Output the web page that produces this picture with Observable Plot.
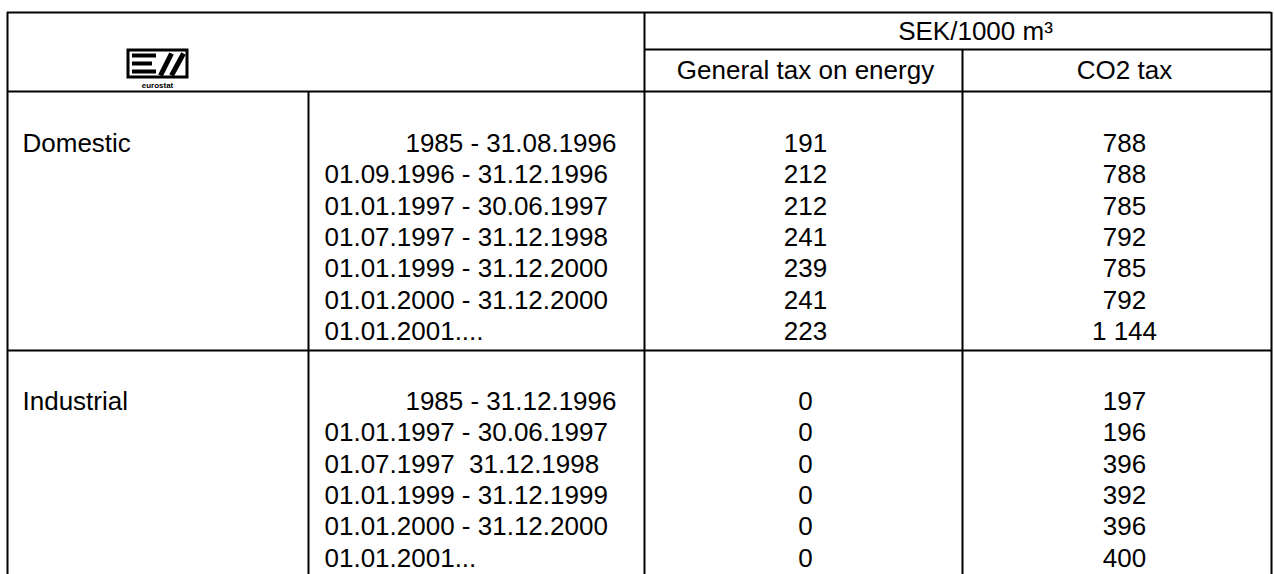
<!DOCTYPE html>
<html>
<head>
<meta charset="utf-8">
<script src="https://cdn.jsdelivr.net/npm/d3@7"></script>
<script src="https://cdn.jsdelivr.net/npm/@observablehq/plot@0.6"></script>
<style>
  html, body { margin: 0; padding: 0; background: #ffffff; }
  #chart svg text { white-space: pre; }
</style>
</head>
<body>
<div id="chart"></div>
<script>
const sections = ["Domestic", "Industrial"];
const unitLabel = "SEK/1000 m³";
const columnLabels = ["General tax on energy", "CO2 tax"];

const domesticPeriods = [
  "1985 - 31.08.1996",
  "01.09.1996 - 31.12.1996",
  "01.01.1997 - 30.06.1997",
  "01.07.1997 - 31.12.1998",
  "01.01.1999 - 31.12.2000",
  "01.01.2000 - 31.12.2000",
  "01.01.2001...."
];
const domesticEnergyTax = [191, 212, 212, 241, 239, 241, 223];
const domesticCO2Tax = [788, 788, 785, 792, 785, 792, 1144];

const industrialPeriods = [
  "1985 - 31.12.1996",
  "01.01.1997 - 30.06.1997",
  "01.07.1997  31.12.1998",
  "01.01.1999 - 31.12.1999",
  "01.01.2000 - 31.12.2000",
  "01.01.2001..."
];
const industrialEnergyTax = [0, 0, 0, 0, 0, 0];
const industrialCO2Tax = [197, 196, 396, 392, 396, 400];

// ---- layout (pixels) ----
const W = 1274, H = 574;
const L = {
  left: 7, right: 1271, top: 12, unitLine: 49, headerLine: 91, sectionLine: 350, bottom: 574,
  catDiv: 308, periodDiv: 644, taxDiv: 962,
  firstRow: [143, 401], rowStep: 31.4,
  labelX: 22, periodStart: 324, periodEnd: 616,
  energyX: 805, co2X: 1124, unitX: 975,
  unitY: 31, colHeadY: 70
};
const FS = 26;

const fmt = d3.formatLocale({decimal: ".", thousands: " ", grouping: [3], currency: ["", ""]}).format(",d");

// ---- build cells ----
const blocks = [
  {name: sections[0], periods: domesticPeriods, energy: domesticEnergyTax, co2: domesticCO2Tax},
  {name: sections[1], periods: industrialPeriods, energy: industrialEnergyTax, co2: industrialCO2Tax}
];
const startCells = [], middleCells = [], endCells = [];
blocks.forEach((b, bi) => {
  const y0 = L.firstRow[bi];
  startCells.push({x: L.labelX, y: y0, text: b.name});
  b.periods.forEach((p, i) => {
    const y = y0 + i * L.rowStep;
    if (p.startsWith("1985")) endCells.push({x: L.periodEnd, y, text: p});
    else startCells.push({x: L.periodStart, y, text: p});
    middleCells.push({x: L.energyX, y, text: fmt(b.energy[i])});
    middleCells.push({x: L.co2X, y, text: fmt(b.co2[i])});
  });
});
middleCells.push({x: L.unitX, y: L.unitY, text: unitLabel});
middleCells.push({x: L.energyX, y: L.colHeadY, text: columnLabels[0]});
middleCells.push({x: L.co2X, y: L.colHeadY, text: columnLabels[1]});

const hLines = [
  {y: L.top, x1: L.left, x2: L.right},
  {y: L.unitLine, x1: L.periodDiv, x2: L.right},
  {y: L.headerLine, x1: L.left, x2: L.right},
  {y: L.sectionLine, x1: L.left, x2: L.right}
];
const vLines = [
  {x: L.left, y1: L.top, y2: L.bottom},
  {x: L.catDiv, y1: L.headerLine, y2: L.bottom},
  {x: L.periodDiv, y1: L.top, y2: L.bottom},
  {x: L.taxDiv, y1: L.unitLine, y2: L.bottom},
  {x: L.right, y1: L.top, y2: L.bottom}
];

// eurostat logo (small emblem)
const logo = {x1: 128, x2: 187, y1: 50, y2: 77};
const logoBars = [
  {y: 55, x1: 132, x2: 156}, {y: 63, x1: 132, x2: 152}, {y: 71, x1: 132, x2: 156}
];
const logoSlashes = [
  {x1: 160, y1: 75, x2: 171, y2: 53}, {x1: 171, y1: 75, x2: 183, y2: 53}
];

const chart = Plot.plot({
  width: W, height: H,
  margin: 0,
  x: {type: "identity", axis: null},
  y: {type: "identity", axis: null},
  style: {fontFamily: "'Liberation Sans', Arial, sans-serif", fontSize: FS + "px", background: "#ffffff", color: "#000"},
  marks: [
    Plot.ruleY(hLines, {y: "y", x1: "x1", x2: "x2", stroke: "#000", strokeWidth: 2.2}),
    Plot.ruleX(vLines, {x: "x", y1: "y1", y2: "y2", stroke: "#000", strokeWidth: 2}),
    Plot.rect([logo], {x1: "x1", x2: "x2", y1: "y1", y2: "y2", fill: "#fff", stroke: "#000", strokeWidth: 3}),
    Plot.ruleY(logoBars, {y: "y", x1: "x1", x2: "x2", stroke: "#000", strokeWidth: 4}),
    Plot.link(logoSlashes, {x1: "x1", y1: "y1", x2: "x2", y2: "y2", stroke: "#000", strokeWidth: 5}),
    Plot.text([{x: 157, y: 85, t: "eurostat"}], {x: "x", y: "y", text: "t", fontSize: 8, fontWeight: "bold", fill: "#000"}),
    Plot.text(startCells, {x: "x", y: "y", text: "text", textAnchor: "start", fontSize: FS, fill: "#000"}),
    Plot.text(middleCells, {x: "x", y: "y", text: "text", textAnchor: "middle", fontSize: FS, fill: "#000"}),
    Plot.text(endCells, {x: "x", y: "y", text: "text", textAnchor: "end", fontSize: FS, fill: "#000"})
  ]
});
document.getElementById("chart").appendChild(chart);
</script>
</body>
</html>
